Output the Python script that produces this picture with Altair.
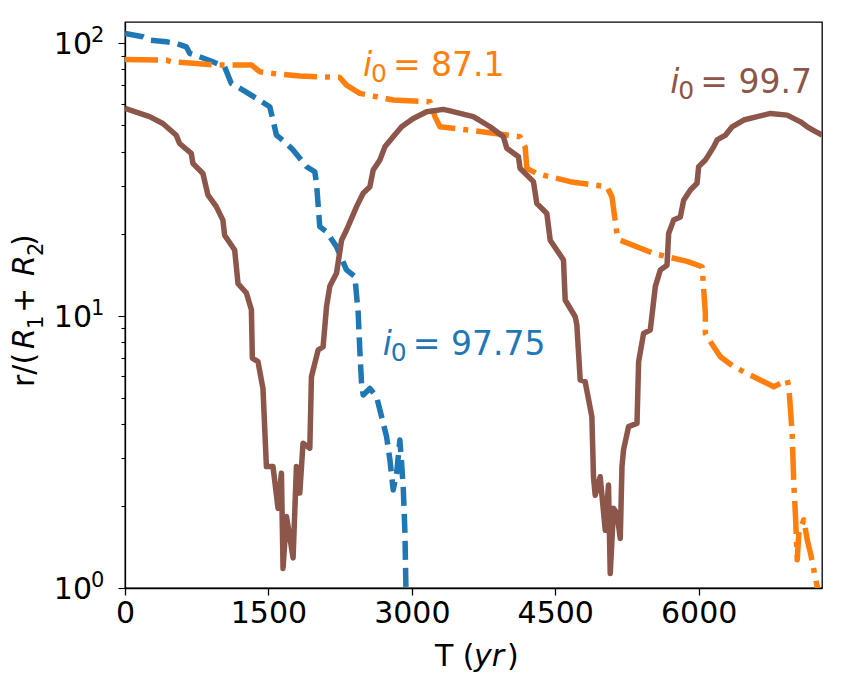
import altair as alt
import pandas as pd

# ---------------- data ----------------
brown_t = [0, 257, 396, 536, 571, 693, 710, 815, 867, 955, 1024, 1042, 1147, 1182, 1270, 1322, 1332, 1391,
           1443, 1479, 1548, 1601, 1636, 1653, 1689, 1758, 1793, 1828, 1862, 1933, 1950, 2020, 2072, 2108,
           2142, 2212, 2265, 2317, 2422, 2491, 2561, 2596, 2666, 2718, 2805, 2893, 3015, 3155, 3329, 3399,
           3643, 3818, 3958, 3993, 4115, 4132, 4272, 4307, 4412, 4447, 4586, 4604, 4709, 4726, 4761, 4813,
           4883, 4900, 4918, 4970, 5023, 5057, 5075, 5110, 5145, 5180, 5198, 5214, 5267, 5355, 5372, 5424,
           5494, 5547, 5599, 5669, 5686, 5738, 5808, 5843, 5913, 5983, 6000, 6070, 6157, 6193, 6280, 6350,
           6471, 6612, 6751, 6926, 7065, 7136, 7223, 7290]
brown_r = [57.6, 53.7, 50.7, 45.9, 42.8, 39.4, 36.2, 33.2, 27.7, 25.1, 22.4, 19.7, 17.4, 13.1, 12.1, 10.5,
           6.97, 6.77, 5.40, 2.79, 2.79, 1.96, 2.64, 1.18, 1.83, 1.29, 2.79, 2.23, 3.40, 3.26, 5.96, 7.47,
           7.68, 10.8, 12.8, 14.3, 18.9, 20.6, 25.1, 28.1, 29.7, 34.2, 37.2, 41.6, 45.3, 49.3, 52.9, 56.0,
           57.1, 56.4, 53.7, 49.3, 45.3, 41.1, 38.3, 34.7, 31.0, 25.8, 23.7, 18.9, 16.0, 11.4, 9.9, 9.23,
           5.80, 5.72, 4.25, 2.56, 2.19, 2.56, 1.63, 2.39, 1.13, 1.96, 1.88, 1.52, 2.79, 3.21, 3.91, 4.02,
           6.77, 8.60, 8.85, 12.8, 14.7, 15.3, 20.0, 22.4, 23.0, 26.5, 28.9, 30.6, 35.2, 37.2, 41.6, 44.1,
           45.9, 49.3, 52.2, 53.7, 55.2, 54.4, 51.4, 49.3, 47.3, 46.0]

blue_t = [0, 186, 257, 432, 536, 641, 676, 780, 920, 1042, 1112, 1234, 1374, 1514, 1548, 1584, 1689, 1758,
          1898, 1985, 2003, 2037, 2108, 2212, 2317, 2404, 2439, 2456, 2474, 2491, 2561, 2631, 2684, 2736,
          2771, 2805, 2841, 2875, 2893, 2910, 2928, 2938, 2948]
blue_r = [108.5, 105.5, 102.6, 101.1, 99.7, 96.9, 91.7, 89.1, 85.4, 81.8, 71.1, 67.2, 62.7, 58.4, 52.2,
          45.9, 42.8, 40.5, 35.2, 33.7, 30.6, 21.2, 20.3, 17.9, 14.7, 13.9, 10.2, 7.47, 5.64, 5.11, 5.40,
          5.04, 4.25, 3.59, 2.95, 2.29, 2.64, 3.49, 2.87, 2.35, 1.59, 1.01, 0.9]

orange_t = [0, 432, 484, 641, 955, 1322, 1409, 1548, 1828, 2247, 2317, 2456, 2805, 3190, 3242, 3294, 3609,
            4132, 4185, 4203, 4307, 4656, 5041, 5093, 5145, 5180, 5529, 5879, 6036, 6070, 6070, 6123, 6227,
            6367, 6576, 6786, 6926, 6943, 6978, 6995, 7013, 7031, 7048, 7100, 7136, 7170, 7240, 7260]
orange_r = [87.1, 86.6, 85.4, 84.7, 83.1, 83.1, 78.5, 77.4, 75.7, 74.8, 70.1, 65.4, 61.8, 60.9, 53.7, 49.3,
            47.9, 45.3, 41.6, 34.7, 33.2, 31.0, 29.7, 27.3, 20.0, 18.9, 16.9, 15.8, 15.1, 10.2, 8.60, 8.01,
            7.06, 6.49, 5.96, 5.48, 5.80, 5.48, 3.70, 2.42, 1.83, 1.27, 1.59, 1.78, 1.50, 1.34, 1.01, 0.95]

label_value = ["87.1", "97.75", "99.7"]
label_t = [2488, 2697, 5704]
label_r = [76.0, 7.16, 65.4]
label_color = ["#ff7f0e", "#1f77b4", "#8c564b"]

x_ticks = [0, 1500, 3000, 4500, 6000]
y_major = [1, 10, 100]
y_major_exp = ["0", "1", "2"]
y_ticks = [1, 2, 3, 4, 5, 6, 7, 8, 9, 10, 20, 30, 40, 50, 60, 70, 80, 90, 100]

# ---------------- build ----------------
FONT = "DejaVu Sans"
W, H = 697, 566
LW = 5.5

x_scale = alt.Scale(domain=[0, 7290], nice=False, zero=False)
y_scale = alt.Scale(type="log", domain=[1, 119.5], nice=False)

x_axis = alt.Axis(values=x_ticks, format="d", title=None, grid=False, tickSize=7, tickWidth=1.3,
                  tickColor="black", domainColor="black", domainWidth=1.3, labelFontSize=30,
                  labelFont=FONT, labelColor="black", labelPadding=3, labelFlush=False,
                  labelOverlap=False)
y_axis = alt.Axis(values=y_ticks, title=None, grid=False, labels=False,
                  tickSize={"condition": {"test": "datum.value == 1 || datum.value == 10 || datum.value == 100",
                                          "value": 7}, "value": 4},
                  tickWidth=1.1, tickColor="black", domainColor="black", domainWidth=1.3)


def series(t, r, color, dash):
    df = pd.DataFrame({"t": t, "r": r, "i": range(len(t))})
    kw = dict(color=color, strokeWidth=LW, clip=True, strokeJoin="round")
    if dash:
        kw["strokeDash"] = dash
        kw["strokeCap"] = "butt"
    return alt.Chart(df).mark_line(**kw).encode(
        x=alt.X("t:Q", scale=x_scale, axis=x_axis),
        y=alt.Y("r:Q", scale=y_scale, axis=y_axis),
        order=alt.Order("i:Q"),
    )


blue = series(blue_t, blue_r, "#1f77b4", [19, 8])
orange = series(orange_t, orange_r, "#ff7f0e", [33, 8, 5, 8])
brown = series(brown_t, brown_r, "#8c564b", None)

# curve annotations  i_0 = ...
lab_df = pd.DataFrame({"t": label_t, "r": label_r, "c": label_color,
                       "eq": ["= " + v for v in label_value]})
lab_base = alt.Chart(lab_df).encode(
    x=alt.X("t:Q", scale=x_scale, axis=x_axis),
    y=alt.Y("r:Q", scale=y_scale, axis=y_axis),
    color=alt.Color("c:N", scale=None),
)
lab_i = lab_base.mark_text(text="i", font=FONT, fontSize=33, fontStyle="italic", align="left",
                           baseline="alphabetic")
lab_0 = lab_base.mark_text(text="0", font=FONT, fontSize=25, align="left", baseline="alphabetic",
                           dx=8, dy=6)
lab_eq = lab_base.mark_text(font=FONT, fontSize=33, align="left", baseline="alphabetic",
                            dx=30).encode(text="eq:N")

# y tick labels 10^n
ytl_df = pd.DataFrame({"v": y_major, "e": y_major_exp})
ytl_base = alt.Chart(ytl_df).encode(y=alt.Y("v:Q", scale=y_scale, axis=y_axis))
ytl_10 = ytl_base.mark_text(text="10", font=FONT, fontSize=30, align="right", baseline="alphabetic",
                            color="black", dy=11).encode(x=alt.value(-33))
ytl_exp = ytl_base.mark_text(font=FONT, fontSize=21, align="left", baseline="alphabetic",
                             color="black", dy=-1).encode(x=alt.value(-34), text="e:N")

dummy = pd.DataFrame({"a": [0]})


def txt(s, x, y, size=30, style="normal", angle=0):
    return alt.Chart(dummy).mark_text(text=s, font=FONT, fontSize=size, fontStyle=style, angle=angle,
                                      align="left", baseline="alphabetic", color="black").encode(
        x=alt.value(x), y=alt.value(y))


# x-axis title  "T (yr)"
xt = [txt("T (", 310, 644), txt("yr", 349, 644, style="italic"), txt(")", 382, 644)]
# y-axis title  "r/(R1 + R2)"  (rotated)
yt = [txt("r/(", -91, 365, angle=270),
      txt("R", -91, 327, style="italic", angle=270),
      txt("1", -82, 307, size=21, angle=270),
      txt("+", -91, 291, angle=270),
      txt("R", -91, 254, style="italic", angle=270),
      txt("2", -82, 234, size=21, angle=270),
      txt(")", -91, 224, angle=270)]

chart = alt.layer(blue, orange, brown, lab_i, lab_0, lab_eq, ytl_10, ytl_exp, *xt, *yt).properties(
    width=W, height=H,
    padding={"left": 125, "top": 22, "right": 24, "bottom": 103},
    autosize=alt.AutoSizeParams(type="none"),
    background="white",
).configure_view(stroke="black", strokeWidth=1.3)

chart.save("out.html", embed_options={"renderer": "svg", "actions": False})
